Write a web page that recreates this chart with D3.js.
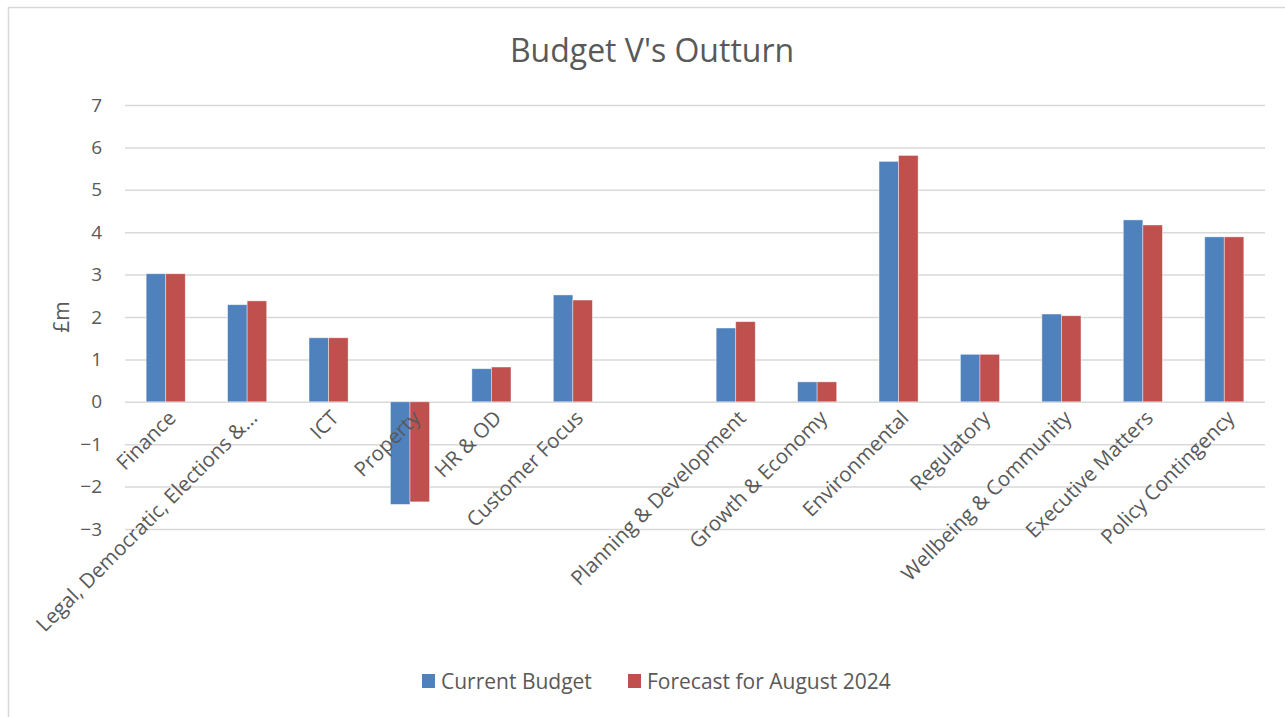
<!DOCTYPE html>
<html>
<head>
<meta charset="utf-8">
<script src="https://cdn.jsdelivr.net/npm/d3@7"></script>
<style>
    body { margin: 0; background: #fff; }
    text { font-family: "Open Sans", "Noto Sans", sans-serif; fill: #595959; }
</style>
</head>
<body>
<div id="chart"></div>
<script>
// chart data
var categories = ["Finance", "Legal, Democratic, Elections &...", "ICT", "Property", "HR & OD",
    "Customer Focus", "", "Planning & Development", "Growth & Economy", "Environmental",
    "Regulatory", "Wellbeing & Community", "Executive Matters", "Policy Contingency"];
var currentBudget = [3.02, 2.29, 1.51, -2.42, 0.78, 2.52, 0, 1.74, 0.47, 5.67, 1.12, 2.07, 4.29, 3.89];
var forecastAug = [3.02, 2.38, 1.51, -2.36, 0.82, 2.40, 0, 1.89, 0.47, 5.81, 1.12, 2.03, 4.17, 3.89];
var seriesNames = ["Current Budget", "Forecast for August 2024"];
var yTicks = [-3, -2, -1, 0, 1, 2, 3, 4, 5, 6, 7];

var width = 1285, height = 717;
var margin = {top: 105, right: 20, bottom: 188, left: 125};
var colors = ["#4F81BD", "#C0504D"];

var svg = d3.select("#chart").append("svg")
    .attr("width", width)
    .attr("height", height);

// chart border (only top / left visible in frame)
svg.append("rect")
    .attr("x", 8.5).attr("y", 7.5)
    .attr("width", width + 20).attr("height", height + 20)
    .attr("fill", "none")
    .attr("stroke", "#D9D9D9")
    .attr("stroke-width", 1.5);

var x = d3.scaleBand()
    .domain(d3.range(categories.length))
    .range([margin.left, width - margin.right])
    .paddingInner(0.52)
    .paddingOuter(0.26);

var xs = d3.scaleBand()
    .domain([0, 1])
    .range([0, x.bandwidth()]);

var y = d3.scaleLinear()
    .domain([-3, 7])
    .range([height - margin.bottom, margin.top]);

// gridlines
var yAxis = d3.axisLeft(y)
    .tickValues(yTicks)
    .tickSize(-(width - margin.left - margin.right))
    .tickPadding(23)
    .tickFormat(d3.format("d"));

var gy = svg.append("g")
    .attr("transform", "translate(" + margin.left + ",0)")
    .call(yAxis);
gy.select(".domain").remove();
gy.selectAll("line").attr("stroke", "#D9D9D9").attr("stroke-width", 1.5);
gy.selectAll("text")
    .style("font-size", "19px")
    .attr("fill", "#595959")
    .attr("font-family", "Open Sans");

// bars
var data = categories.map(function (c, i) {
    return [currentBudget[i], forecastAug[i]];
});

var groups = svg.selectAll(".cat")
    .data(data)
    .enter().append("g")
    .attr("class", "cat")
    .attr("transform", function (d, i) { return "translate(" + x(i) + ",0)"; });

groups.selectAll("rect")
    .data(function (d) { return d; })
    .enter().append("rect")
    .attr("x", function (d, j) { return xs(j); })
    .attr("y", function (d) { return y(Math.max(0, d)); })
    .attr("width", xs.bandwidth())
    .attr("height", function (d) { return Math.abs(y(d) - y(0)); })
    .attr("fill", function (d, j) { return colors[j]; })
    .attr("stroke", "#ffffff")
    .attr("stroke-opacity", 0.5)
    .attr("stroke-width", 0.8);

// category labels, rotated
svg.selectAll(".catlabel")
    .data(categories)
    .enter().append("text")
    .attr("class", "catlabel")
    .attr("transform", function (d, i) {
        return "translate(" + (x(i) + x.bandwidth() / 2 + 1) + "," + (y(0) + 7) + ") rotate(-45)";
    })
    .attr("text-anchor", "end")
    .attr("dy", "0.72em")
    .style("font-size", "20.5px")
    .text(function (d) { return d; });

// title
svg.append("text")
    .attr("x", 652)
    .attr("y", 62)
    .attr("text-anchor", "middle")
    .style("font-size", "32px")
    .text("Budget V's Outturn");

// y axis title
svg.append("text")
    .attr("transform", "translate(69," + y(2) + ") rotate(-90)")
    .attr("text-anchor", "middle")
    .style("font-size", "21px")
    .text("£m");

// legend
var legend = svg.selectAll(".legend")
    .data(seriesNames)
    .enter().append("g")
    .attr("class", "legend")
    .attr("transform", function (d, i) {
        return "translate(" + (i === 0 ? 422 : 628) + ",674)";
    });

legend.append("rect")
    .attr("width", 13)
    .attr("height", 14)
    .attr("fill", function (d, i) { return colors[i]; });

legend.append("text")
    .attr("x", 19)
    .attr("y", 14.5)
    .style("font-size", "21px")
    .text(function (d) { return d; });
</script>
</body>
</html>
